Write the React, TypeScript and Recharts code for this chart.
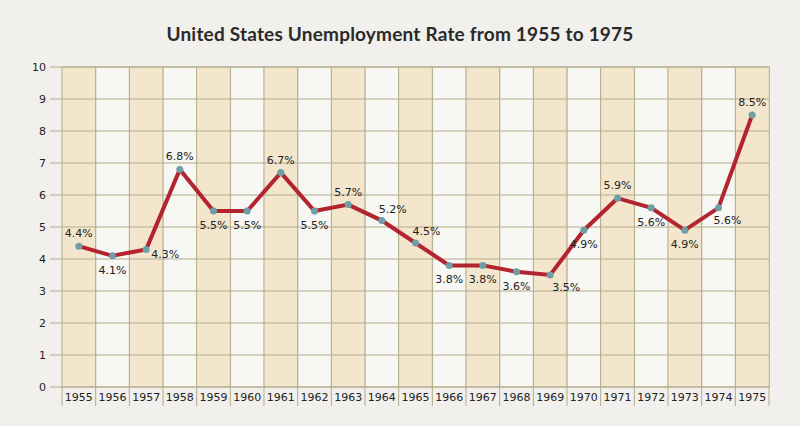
import React from 'react';
import { ComposedChart, Bar, Line, XAxis, YAxis, ReferenceLine, LabelList, Cell } from 'recharts';

const years = ['1955','1956','1957','1958','1959','1960','1961','1962','1963','1964','1965','1966','1967','1968','1969','1970','1971','1972','1973','1974','1975'];
const rates = [4.4,4.1,4.3,6.8,5.5,5.5,6.7,5.5,5.7,5.2,4.5,3.8,3.8,3.6,3.5,4.9,5.9,5.6,4.9,5.6,8.5];
const labelPlacement = ['top','bottom','right','top','bottom','bottom','top','bottom','top','topRight','topRight','bottom','bottom','bottom','bottomRight','bottom','top','bottom','bottom','bottomNear','top'];
const yTicks = [0,1,2,3,4,5,6,7,8,9,10];
const yMax = 10;

const data = years.map((y, i) => ({ year: y, rate: rates[i], band: yMax }));

const GRID = '#b3ab8a';
const TAN = '#f3e6cc';
const FONT = '"DejaVu Sans", Verdana, sans-serif';

const XTick = (props: any) => {
  const { x, y, payload } = props;
  const half = payload && payload.offset ? payload.offset : 16.83;
  const top = y - 8;
  return (
    <g>
      <line x1={x - half} y1={top} x2={x - half} y2={top + 19} stroke={GRID} strokeWidth={1} />
      {payload.index === years.length - 1 && (
        <line x1={x + half} y1={top} x2={x + half} y2={top + 19} stroke={GRID} strokeWidth={1} />
      )}
      <text x={x} y={top + 14} textAnchor="middle" fontSize={11} fontFamily={FONT} fill="#222">{payload.value}</text>
    </g>
  );
};

const PointLabel = (props: any) => {
  const { x, y, value, index } = props;
  const place = labelPlacement[index];
  let dx = 0, dy = -9, anchor: any = 'middle';
  if (place === 'bottom') { dy = 18; }
  else if (place === 'right') { dx = 5; dy = 9; anchor = 'start'; }
  else if (place === 'topRight') { dx = -3; dy = -8; anchor = 'start'; }
  else if (place === 'bottomRight') { dx = 2; dy = 16; anchor = 'start'; }
  else if (place === 'bottomNear') { dx = -5; dy = 16; anchor = 'start'; }
  return (
    <text x={x + dx} y={y + dy} textAnchor={anchor} fontSize={11} fontFamily={FONT} fill="#222">{`${value}%`}</text>
  );
};

export default function App() {
  return (
    <div style={{ position: 'absolute', left: 0, top: 0, width: 800, height: 426, background: '#f1f0ec', overflow: 'hidden' }}>
      <div style={{ position: 'absolute', top: 22, left: 0, width: 800, textAlign: 'center', fontFamily: 'Lato, "Open Sans", sans-serif', fontWeight: 700, fontSize: 19, color: '#2a2a2a', letterSpacing: 0.2 }}>
        United States Unemployment Rate from 1955 to 1975
      </div>
      <ComposedChart width={800} height={426} data={data} margin={{ top: 67, right: 31, left: 0, bottom: 0 }} barCategoryGap={0}>
        <XAxis dataKey="year" height={39} axisLine={false} tickLine={false} tick={<XTick />} interval={0} />
        <YAxis domain={[0, yMax]} ticks={yTicks} width={62} axisLine={false} tickSize={12} tickLine={{ stroke: GRID }} tick={{ fontSize: 11, fontFamily: FONT, fill: '#222' }} tickMargin={4} interval={0} />
        <Bar dataKey="band" isAnimationActive={false} stroke={GRID} strokeWidth={1}>
          {data.map((d, i) => (
            <Cell key={d.year} fill={i % 2 === 0 ? TAN : 'rgba(250,250,248,0.7)'} />
          ))}
        </Bar>
        {yTicks.map(t => (
          <ReferenceLine key={t} y={t} stroke={GRID} strokeWidth={1} />
        ))}
        <Line dataKey="rate" type="linear" stroke="#b3242f" strokeWidth={4} isAnimationActive={false}
          dot={{ r: 3.5, fill: '#6f9fa6', stroke: 'none' }} activeDot={false}>
          <LabelList dataKey="rate" content={<PointLabel />} />
        </Line>
      </ComposedChart>
    </div>
  );
}
